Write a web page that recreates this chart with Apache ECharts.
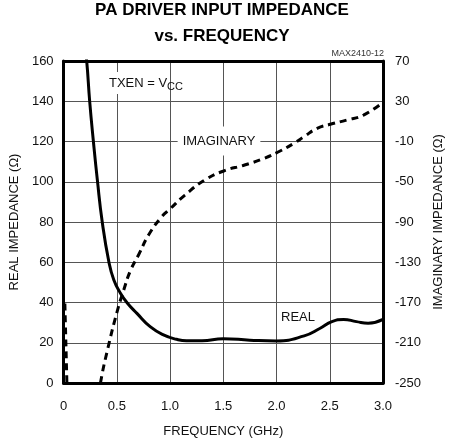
<!DOCTYPE html>
<html>
<head>
<meta charset="utf-8">
<script src="https://cdn.jsdelivr.net/npm/echarts@6/dist/echarts.min.js"></script>
<style>
  html, body { margin: 0; padding: 0; background: #fff; }
  #chart { width: 457px; height: 445px; }
</style>
</head>
<body>
<div id="chart"></div>
<script>
// real part (left axis, ohms) vs frequency (GHz)
var realFreq = [0.205, 0.217, 0.245, 0.28, 0.317, 0.363, 0.426, 0.472, 0.534, 0.596, 0.689, 0.813, 0.938, 1.062, 1.155, 1.3, 1.5, 1.75, 2.0, 2.26, 2.41, 2.52, 2.63, 2.75, 2.86, 3.0];
var realVals = [163, 160, 140, 120, 100.9, 80, 60, 51.2, 44.6, 39.9, 34.6, 28, 23.9, 21.7, 21, 21, 22, 21.3, 20.9, 23.4, 27.2, 30.5, 31.6, 30.5, 29.7, 31.6];

// imaginary part (right axis, ohms); null breaks the line
var imagFreq = [0.012, 0.031, 0.034, 0.1, 0.335, 0.348, 0.416, 0.503, 0.565, 0.627, 0.705, 0.798, 0.922, 1.0, 1.14, 1.326, 1.503, 1.7, 1.885, 2.01, 2.164, 2.258, 2.382, 2.506, 2.662, 2.817, 3.0];
var imagVals = [-171, -250, -262, null, -262, -249, -215.5, -179, -157.6, -138.5, -122.5, -103, -84.7, -77, -63.2, -48.3, -39.3, -33.4, -26.7, -20.7, -11.8, -5.2, 3.1, 7.1, 11.4, 16.3, 29];

var realTicks = [0, 160, 20];
var imagTicks = [-250, 70];
var freqTicks = [0, 3, 0.5];

var font = "'Liberation Sans', Arial, Helvetica, sans-serif";

function pairs(xs, ys) {
  var out = [];
  for (var i = 0; i < xs.length; i++) {
    out.push([xs[i], ys[i] === null ? '-' : ys[i]]);
  }
  return out;
}

var chart = echarts.init(document.getElementById('chart'));

var option = {
  backgroundColor: '#fff',
  animation: false,
  title: {
    text: 'PA DRIVER INPUT IMPEDANCE\nvs. FREQUENCY',
    left: 222,
    top: -3,
    padding: 0,
    textAlign: 'center',
    textStyle: {
      fontFamily: font,
      fontSize: 17,
      fontWeight: 'bold',
      lineHeight: 26,
      color: '#000'
    }
  },
  grid: { left: 61, right: 74, top: 61, bottom: 62 },
  xAxis: [
    {
      type: 'value',
      min: freqTicks[0],
      max: freqTicks[1],
      interval: freqTicks[2],
      position: 'bottom',
      name: 'FREQUENCY (GHz)',
      nameLocation: 'middle',
      nameGap: 42,
      nameTextStyle: { fontFamily: font, fontSize: 13, color: '#111' },
      axisLine: { onZero: false, lineStyle: { color: '#000', width: 3 } },
      axisTick: { show: false },
      axisLabel: {
        margin: 17,
        fontFamily: font,
        fontSize: 13,
        color: '#111',
        formatter: function (v) { return v === 0 ? '0' : v.toFixed(1); }
      },
      splitLine: { show: true, lineStyle: { color: '#555', width: 1 } }
    },
    {
      type: 'value',
      min: freqTicks[0],
      max: freqTicks[1],
      position: 'top',
      axisLine: { onZero: false, lineStyle: { color: '#000', width: 3 } },
      axisTick: { show: false },
      axisLabel: { show: false },
      splitLine: { show: false }
    }
  ],
  yAxis: [
    {
      type: 'value',
      min: realTicks[0],
      max: realTicks[1],
      interval: realTicks[2],
      position: 'left',
      name: 'REAL IMPEDANCE (Ω)',
      nameLocation: 'middle',
      nameGap: 38,
      nameTextStyle: { fontFamily: font, fontSize: 13, color: '#111' },
      axisLine: { onZero: false, lineStyle: { color: '#000', width: 3 } },
      axisTick: { show: false },
      axisLabel: { margin: 10, fontFamily: font, fontSize: 13, color: '#111' },
      splitLine: { show: true, lineStyle: { color: '#555', width: 1 } }
    },
    {
      type: 'value',
      min: imagTicks[0],
      max: imagTicks[1],
      alignTicks: true,
      position: 'right',
      name: 'IMAGINARY IMPEDANCE (Ω)',
      nameLocation: 'middle',
      nameGap: 49,
      nameTextStyle: { fontFamily: font, fontSize: 13, color: '#111' },
      axisLine: { onZero: false, lineStyle: { color: '#000', width: 3 } },
      axisTick: { show: false },
      axisLabel: { margin: 12, fontFamily: font, fontSize: 13, color: '#111' },
      splitLine: { show: false }
    }
  ],
  series: [
    {
      name: 'REAL',
      type: 'line',
      xAxisIndex: 0,
      yAxisIndex: 0,
      data: pairs(realFreq, realVals),
      showSymbol: false,
      smooth: 0.5,
      lineStyle: { color: '#000', width: 3 },
      z: 3
    },
    {
      name: 'IMAGINARY',
      type: 'line',
      xAxisIndex: 0,
      yAxisIndex: 1,
      data: pairs(imagFreq, imagVals),
      connectNulls: false,
      showSymbol: false,
      smooth: 0.5,
      lineStyle: { color: '#000', width: 3, type: [7, 5] },
      z: 3
    }
  ],
  graphic: [
    {
      type: 'text', z: 1, x: 107, y: 83,
      style: {
        text: 'TXEN = V', font: '13px ' + font, fill: '#111',
        verticalAlign: 'middle', backgroundColor: '#fff', padding: [3, 2, 6, 2]
      }
    },
    {
      type: 'text', z: 1, x: 167, y: 87,
      style: { text: 'CC', font: '11px ' + font, fill: '#111', verticalAlign: 'middle' }
    },
    {
      type: 'text', z: 1, x: 219, y: 141,
      style: {
        text: 'IMAGINARY', font: '13px ' + font, fill: '#111', align: 'center',
        verticalAlign: 'middle', backgroundColor: '#fff', padding: [8, 5, 8, 5]
      }
    },
    {
      type: 'text', z: 1, x: 298, y: 317,
      style: {
        text: 'REAL', font: '13px ' + font, fill: '#111', align: 'center',
        verticalAlign: 'middle', backgroundColor: '#fff', padding: [9, 4, 2, 4]
      }
    },
    {
      type: 'text', z: 1, x: 384, y: 54,
      style: { text: 'MAX2410-12', font: '9px ' + font, fill: '#333', align: 'right', verticalAlign: 'middle' }
    }
  ]
};

chart.setOption(option);
</script>
</body>
</html>
